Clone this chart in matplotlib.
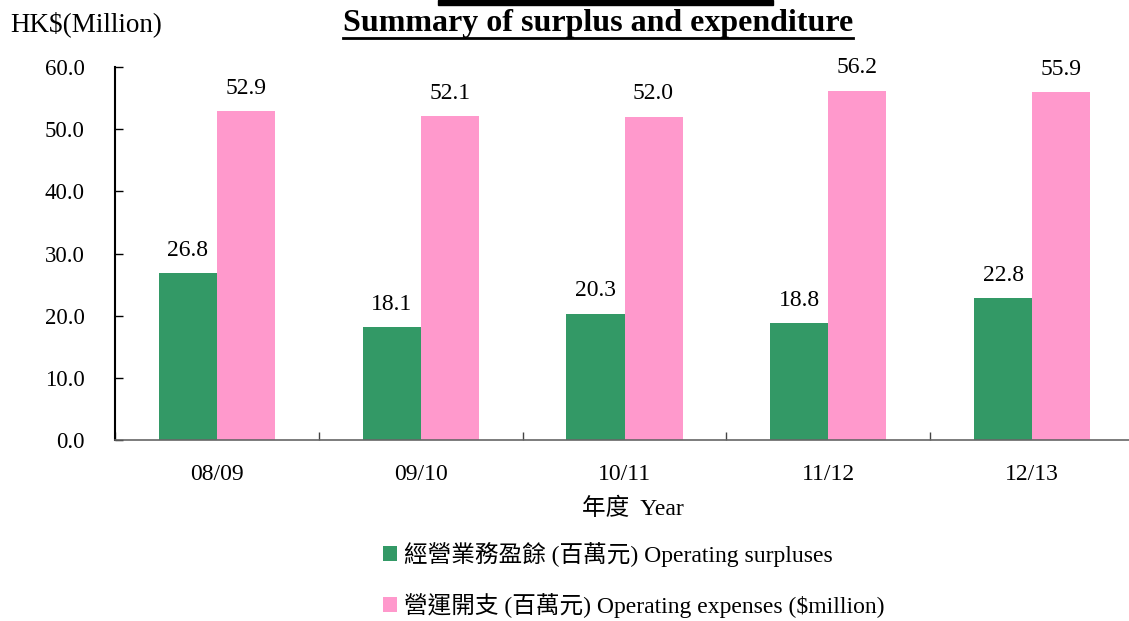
import matplotlib
matplotlib.use("Agg")
import matplotlib.pyplot as plt
import numpy as np
from matplotlib.patches import Rectangle
from matplotlib.lines import Line2D

years = ['08/09', '09/10', '10/11', '11/12', '12/13']
surplus = [26.8, 18.1, 20.3, 18.8, 22.8]
expenses = [52.9, 52.1, 52.0, 56.2, 55.9]
yticks = [0, 10, 20, 30, 40, 50, 60]

label_surplus = '經營業務盈餘 (百萬元) Operating surpluses'
label_expenses = '營運開支 (百萬元) Operating expenses ($million)'

green = '#339966'
pink = '#FF99CC'

plt.rcParams['font.family'] = ['Liberation Serif', 'Noto Sans CJK TC']
plt.rcParams['font.size'] = 17

fig = plt.figure(figsize=(11.29, 6.21), dpi=100)
W, H = 1129, 621
# axes: x from px 115 to 1134, y from px 440 (0) to 67 (60)
ax = fig.add_axes([115 / W, 1 - 440 / H, (1134 - 115) / W, (440 - 67) / H])

x = np.arange(len(years))
w = 0.285
b1 = ax.bar(x - w / 2, surplus, w, color=green, label=label_surplus)
b2 = ax.bar(x + w / 2, expenses, w, color=pink, label=label_expenses)

for rects, vals in [(b1, surplus), (b2, expenses)]:
    for r, v in zip(rects, vals):
        ax.annotate('%.1f' % v, (r.get_x() + r.get_width() / 2, v),
                    xytext=(0, 9), textcoords='offset points',
                    ha='center', va='bottom', fontsize=17)

ax.set_xlim(-0.5, len(years) - 0.5)
ax.set_ylim(0, 60)
ax.set_yticks(yticks)
ax.set_yticklabels(['%.1f' % t for t in yticks])
ax.tick_params(axis='y', direction='in', length=6, width=1, pad=22, labelsize=16.5)

# boundary ticks (no labels) + centred labels
ax.set_xticks(np.arange(len(years) + 1) - 0.5)
ax.set_xticklabels([])
ax.tick_params(axis='x', which='major', direction='in', length=6, width=1, colors='#444444')
ax.set_xticks(x, minor=True)
ax.set_xticklabels(years, minor=True)
ax.tick_params(axis='x', which='minor', length=0, pad=17, labelcolor='black', labelsize=17)

for s in ['top', 'right']:
    ax.spines[s].set_visible(False)
ax.spines['left'].set_linewidth(1.5)
ax.spines['bottom'].set_color('#666666')
ax.spines['bottom'].set_linewidth(1.2)

fig.text(10 / W, 1 - 24 / H, 'HK$(Million)', ha='left', va='center', fontsize=19.5)
title = fig.text(598 / W, 1 - 24 / H, 'Summary of surplus and expenditure',
                 ha='center', va='center', fontsize=23, fontweight='bold')
fig.text(633 / W, 1 - 509 / H, '年度  Year', ha='center', va='center', fontsize=17)

# underline title
fig.canvas.draw()
bb = title.get_window_extent().transformed(fig.transFigure.inverted())
fig.add_artist(Line2D([bb.x0, bb.x1], [1 - 38 / H, 1 - 38 / H], color='black', lw=2,
                      transform=fig.transFigure))
# bar cut off at the top edge
fig.add_artist(Rectangle((438 / W, 1 - 5 / H), (773 - 438) / W, 5 / H,
                         color='black', transform=fig.transFigure))

fig.legend(handles=[b1, b2], loc='center left', bbox_to_anchor=(383 / W, 1 - 580 / H),
           frameon=False, handlelength=0.6, handleheight=0.6, handletextpad=0.3,
           labelspacing=1.1, fontsize=17, borderaxespad=0, borderpad=0)

fig.savefig('out.png', dpi=100)
